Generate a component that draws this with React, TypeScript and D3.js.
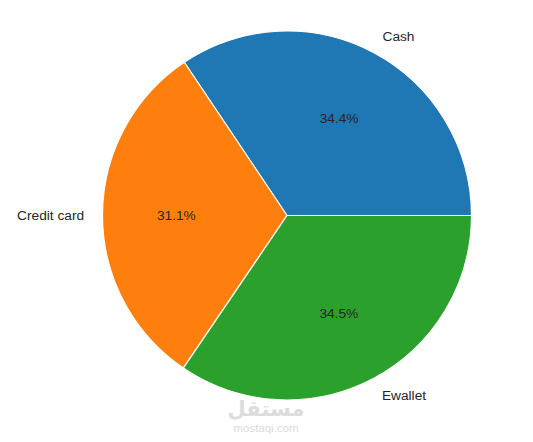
import React from "react";
import * as d3 from "d3";

const categories = ["Cash", "Credit card", "Ewallet"];
const values = [34.4, 31.1, 34.5];
const colors = ["#1f77b4", "#ff7f0e", "#2ca02c"];

export default function App() {
  const W = 533, H = 442;
  const cx = 287, cy = 215.5, R = 184.5;
  const total = d3.sum(values);
  // matplotlib: start at 0 rad (east), counterclockwise
  const toDeg = (v: number) => (v / total) * 360;
  let acc = 0;
  const slices = values.map((v, i) => {
    const a0 = acc;
    const a1 = acc + toDeg(v);
    acc = a1;
    return { i, a0, a1 };
  });
  // convert math angle (deg, ccw from east) to d3 angle (rad, cw from north)
  const d3a = (deg: number) => ((90 - deg) * Math.PI) / 180;
  const arc = d3.arc<any>().innerRadius(0).outerRadius(R);
  const font = "'Liberation Sans', Arial, sans-serif";
  return (
    <svg width={W} height={H} style={{ position: "absolute", left: 0, top: 0 }}>
      <rect width={W} height={H} fill="#fff" />
      <g transform={`translate(${cx},${cy})`}>
        {slices.map((s) => (
          <path
            key={s.i}
            d={arc({ startAngle: d3a(s.a1), endAngle: d3a(s.a0) }) as string}
            fill={colors[s.i]}
            stroke="#fff"
            strokeWidth={1.2}
            strokeLinejoin="round"
          />
        ))}
        {slices.map((s) => {
          const mid = ((s.a0 + s.a1) / 2) * Math.PI / 180;
          const lx = 1.1 * R * Math.cos(mid);
          const ly = -1.1 * R * Math.sin(mid);
          const px = 0.6 * R * Math.cos(mid);
          const py = -0.6 * R * Math.sin(mid);
          return (
            <g key={"t" + s.i} fontFamily={font} fontSize={13.7} fill="#262626">
              <text x={lx} y={ly} dy="0.35em" textAnchor={lx > 0 ? "start" : "end"}>
                {categories[s.i]}
              </text>
              <text x={px} y={py} dy="0.35em" textAnchor="middle">
                {values[s.i].toFixed(1) + "%"}
              </text>
            </g>
          );
        })}
      </g>
      <g fill="#dcdcdc" textAnchor="middle">
        <text x={266} y={416} fontFamily="'DejaVu Sans', sans-serif" fontSize={21} fontWeight="bold">مستقل</text>
        <text x={266} y={432} fontFamily={font} fontSize={11.5}>mostaqi.com</text>
      </g>
    </svg>
  );
}
